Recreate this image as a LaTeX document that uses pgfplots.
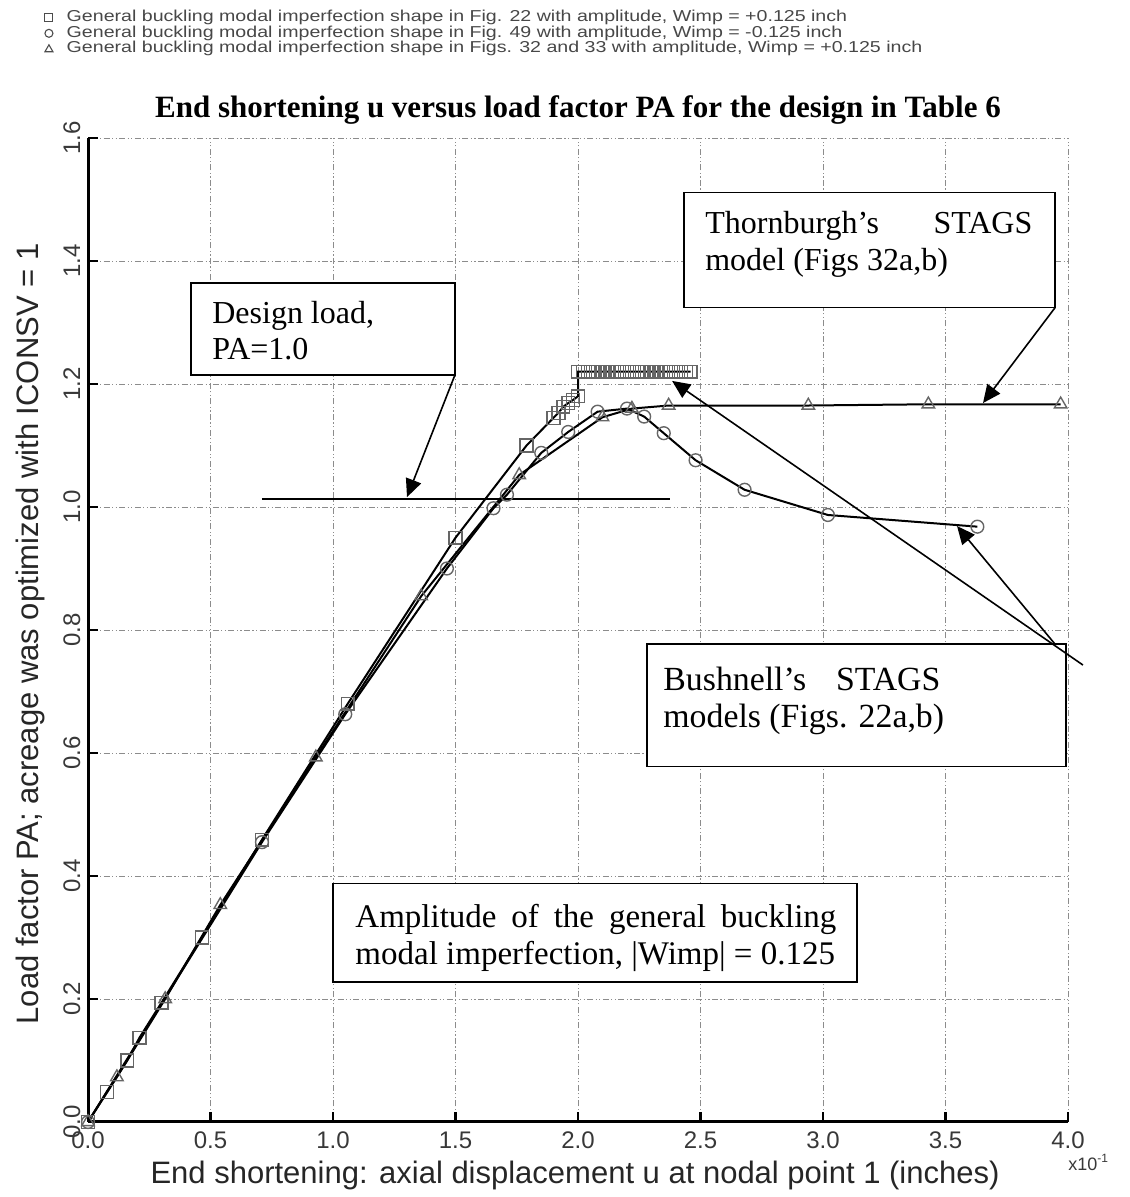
\documentclass[border=0pt]{standalone}
\usepackage{fontspec}
\setmainfont{Liberation Sans}
\newfontfamily\tnr{Liberation Serif}
\usepackage{pgfplots}
\pgfplotsset{compat=1.18}
\usepackage{pgfplotstable}
\usetikzlibrary{arrows.meta}

% Fig. 22 imperfection shape, Wimp = +0.125
\pgfplotstableread{
u pa
0.000 0.000
0.077 0.049
0.160 0.100
0.210 0.137
0.300 0.194
0.465 0.300
0.710 0.459
1.060 0.680
1.500 0.950
1.790 1.100
1.900 1.145
1.920 1.153
1.940 1.163
1.960 1.169
1.980 1.174
2.000 1.180
2.000 1.220
2.020 1.220
2.040 1.220
2.060 1.220
2.080 1.220
2.100 1.220
2.120 1.220
2.140 1.220
2.160 1.220
2.180 1.220
2.200 1.220
2.220 1.220
2.240 1.220
2.260 1.220
2.280 1.220
2.300 1.220
2.320 1.220
2.340 1.220
2.360 1.220
2.380 1.220
2.400 1.220
2.420 1.220
2.440 1.220
2.460 1.220
}\figA

% Fig. 49 imperfection shape, Wimp = -0.125
\pgfplotstableread{
u pa
0.000 0.000
0.710 0.455
1.050 0.663
1.465 0.900
1.655 0.998
1.710 1.020
1.850 1.088
1.960 1.122
2.080 1.155
2.200 1.160
2.270 1.147
2.350 1.120
2.480 1.076
2.680 1.028
3.020 0.987
3.630 0.968
}\figB

% Figs. 32 and 33 imperfection shape, Wimp = +0.125
\pgfplotstableread{
u pa
0.000 0.000
0.118 0.073
0.315 0.200
0.540 0.353
0.930 0.593
1.360 0.855
1.760 1.052
2.100 1.146
2.220 1.160
2.370 1.165
2.940 1.165
3.430 1.167
3.970 1.167
}\figC

\tikzset{
  note/.style={anchor=base west, inner sep=0pt, font=\tnr\fontsize{16}{18}\selectfont},
  callout/.style={black, line width=0.8pt, -{Triangle[length=9pt,width=8pt]}},
  notebox/.style={draw=black, fill=white, line width=0.75pt},
}
% legend text, set a little wide
\newcommand\legtext[1]{\smash{\scalebox{1.24}[1]{#1}}}

\begin{document}
\begin{tikzpicture}
\begin{axis}[
  at={(44pt,37.5pt)}, anchor=south west,
  scale only axis, width=490pt, height=492pt,
  xmin=0, xmax=4, ymin=0, ymax=1.6,
  clip=false,
  axis x line*=bottom, axis y line*=left,
  axis line style={line width=1.5pt, black},
  xtick={0,0.5,1,1.5,2,2.5,3,3.5,4},
  ytick={0,0.2,0.4,0.6,0.8,1,1.2,1.4,1.6},
  tick align=inside,
  major tick length=5pt,
  every tick/.style={black, line width=1.2pt},
  xmajorgrids, ymajorgrids,
  major grid style={black!45, line width=0.45pt, dash pattern=on 3pt off 1.2pt on 0.6pt off 1.2pt on 0.6pt off 1.2pt},
  /pgf/number format/fixed, /pgf/number format/fixed zerofill,
  /pgf/number format/precision=1, /pgf/number format/assume math mode=true,
  tick label style={font=\fontsize{12}{14}\selectfont, text=black!78},
  xticklabel style={anchor=base, yshift=-13pt},
  yticklabel style={xshift=-4pt, rotate=90, anchor=base},
  title={End shortening u versus load factor PA for the design in Table 6},
  title style={at={(axis description cs:0.50,1.0082)}, anchor=base, yshift=0pt,
    font=\tnr\bfseries\fontsize{15.5}{18}\selectfont},
  xlabel={End shortening: axial displacement u at nodal point 1 (inches)},
  xlabel style={at={(axis description cs:0.497,-0.063)}, anchor=base, yshift=0pt,
    font=\fontsize{15.5}{18}\selectfont, text=black!85},
  ylabel={Load factor PA; acreage was optimized with ICONSV = 1},
  ylabel style={at={(axis description cs:-0.051,0.496)}, anchor=base,
    font=\fontsize{15.5}{18}\selectfont, text=black!85},
  legend cell align=left,
  legend style={at={(axis description cs:-0.047,1.127)}, anchor=north west,
    draw=none, fill=none, inner sep=0pt, outer sep=0pt, row sep=0pt, column sep=3.4pt,
    font=\fontsize{7.9}{8}\selectfont, text=black!72},
]
\addplot[black, line width=1pt, mark=square, mark size=3.2pt,
  mark options={draw=black!60, line width=0.7pt, fill=none}, forget plot]
  table[x=u, y=pa] {\figA};
\addplot[black, line width=1pt, mark=o, mark size=3.2pt,
  mark options={draw=black!60, line width=0.7pt, fill=none}, forget plot]
  table[x=u, y=pa] {\figB};
\addplot[black, line width=1pt, mark=triangle, mark size=3.6pt,
  mark options={draw=black!60, line width=0.7pt, fill=none}, forget plot]
  table[x=u, y=pa] {\figC};

\addlegendimage{legend image code/.code={\path[draw=none, fill=none] (-3.5pt,-1pt) rectangle (3.5pt,5pt);
  \draw[black!70, line width=0.55pt] plot[only marks, mark=square, mark size=2pt] coordinates {(0pt,2.6pt)};}}
\addlegendentry{\legtext{General buckling modal imperfection shape in Fig. 22 with amplitude, Wimp = +0.125 inch}}
\addlegendimage{legend image code/.code={\path[draw=none, fill=none] (-3.5pt,-1pt) rectangle (3.5pt,5pt);
  \draw[black!70, line width=0.55pt] plot[only marks, mark=o, mark size=2pt] coordinates {(0pt,2.6pt)};}}
\addlegendentry{\legtext{General buckling modal imperfection shape in Fig. 49 with amplitude, Wimp = -0.125 inch}}
\addlegendimage{legend image code/.code={\path[draw=none, fill=none] (-3.5pt,-1pt) rectangle (3.5pt,5pt);
  \draw[black!70, line width=0.55pt] plot[only marks, mark=triangle, mark size=2.3pt] coordinates {(0pt,2.3pt)};}}
\addlegendentry{\legtext{General buckling modal imperfection shape in Figs. 32 and 33 with amplitude, Wimp = +0.125 inch}}

% design load level
\draw[black, line width=1pt] (axis cs:0.71,1.013) -- (axis cs:2.376,1.013);

% Design load note
\draw[notebox] (axis cs:0.420,1.215) rectangle (axis cs:1.498,1.364);
\node[note] at (axis cs:0.506,1.299) {Design load,};
\node[note] at (axis cs:0.506,1.239) {PA=1.0};
\draw[callout] (axis cs:1.498,1.215) -- (axis cs:1.302,1.016);

% Thornburgh note
\draw[notebox] (axis cs:2.433,1.324) rectangle (axis cs:3.947,1.511);
\node[note] at (axis cs:2.518,1.445) {\makebox[163.5pt][s]{Thornburgh’s STAGS}};
\node[note] at (axis cs:2.518,1.385) {model (Figs 32a,b)};
\draw[callout] (axis cs:3.947,1.324) -- (axis cs:3.653,1.169);

% Bushnell note
\draw[notebox] (axis cs:2.282,0.578) rectangle (axis cs:3.992,0.777);
\node[note, font=\tnr\fontsize{16.9}{19}\selectfont] at (axis cs:2.347,0.702) {\makebox[138.5pt][s]{Bushnell’s STAGS}};
\node[note, font=\tnr\fontsize{16.9}{19}\selectfont] at (axis cs:2.347,0.641) {models (Figs. 22a,b)};
\draw[callout] (axis cs:4.061,0.743) -- (axis cs:2.384,1.205);
\draw[callout] (axis cs:3.947,0.777) -- (axis cs:3.547,0.969);

% imperfection amplitude note
\draw[notebox] (axis cs:1.000,0.228) rectangle (axis cs:3.139,0.388);
\node[note, font=\tnr\fontsize{16.5}{19}\selectfont] at (axis cs:1.090,0.316) {\makebox[240.5pt][s]{Amplitude of the general buckling}};
\node[note, font=\tnr\fontsize{16.5}{19}\selectfont] at (axis cs:1.090,0.256) {modal imperfection, |Wimp| = 0.125};

% exponent of the u axis
\node[anchor=base west, inner sep=0pt, font=\fontsize{9}{10}\selectfont, text=black!78]
  at (axis description cs:1.0,-0.0488) {x10\textsuperscript{-1}};
\end{axis}
\pgfresetboundingbox
\path[use as bounding box] (0,0) rectangle (564.5pt,598.5pt);
\end{tikzpicture}
\end{document}
